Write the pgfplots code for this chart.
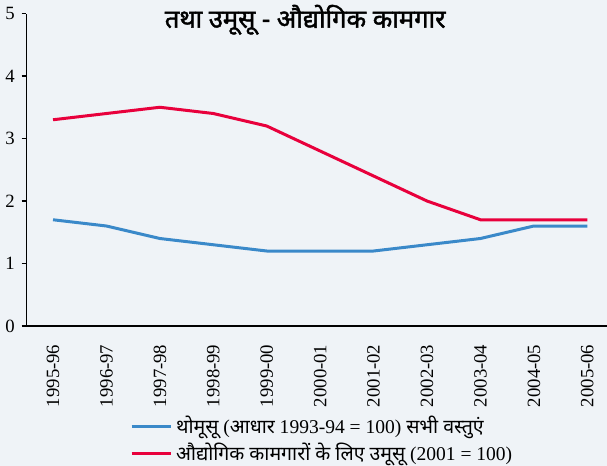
\documentclass[border=0pt]{standalone}
\usepackage{fontspec}
\setmainfont{Liberation Serif}
\newfontfamily\deva[Script=Devanagari]{Noto Sans}
\newfontfamily\devabold[Script=Devanagari,FakeBold=1.6]{Noto Sans}
\usepackage{pgfplots}
\pgfplotsset{compat=1.18}
\definecolor{bg}{HTML}{EFF3F7}
\definecolor{wpiblue}{HTML}{3A89C9}
\definecolor{cpired}{HTML}{E8003C}

\begin{document}
\begin{tikzpicture}
% picture is 607x466 px at 0.5bp per px, axis box lower left at (0,0)
\path[use as bounding box, fill=bg] (-13.15bp,-70bp) rectangle (290.35bp,163bp);
\clip (-13.15bp,-70bp) rectangle (290.35bp,163bp);
\begin{axis}[
    scale only axis,
    width=293.85bp, height=156.25bp,
    xmin=-0.5, xmax=10.5,
    ymin=0, ymax=5,
    axis lines*=left,
    axis line style={black, line width=0.7bp},
    tick style={black, line width=0.7bp},
    tick align=outside,
    major tick length=2.3bp,
    ytick={0,1,2,3,4,5},
    xtick={0,...,10},
    xticklabels={1995-96,1996-97,1997-98,1998-99,1999-00,2000-01,2001-02,2002-03,2003-04,2004-05,2005-06},
    x tick style={draw=none},
    minor xtick={-0.5,0.5,...,10.5},
    minor tick length=2.3bp,
    minor x tick style={black, line width=0.7bp},
    xticklabel style={rotate=90, anchor=east},
    xticklabel shift=3.5bp,
    ticklabel style={font=\fontsize{9.4}{10}\selectfont},
    /pgf/number format/assume math mode=true,
    legend style={at={(0.5,0)}, anchor=center, xshift=1.5bp, yshift=-56.8bp,
        draw=none, fill=none, font=\fontsize{9.8}{10.5}\selectfont,
        row sep=-0.8bp, legend cell align=left},
    legend image code/.code={\draw[#1, line width=1.5bp] (0bp,0bp) -- (19.5bp,0bp);},
    clip=false,
]
\addplot[wpiblue, line width=1.5bp] coordinates {
    (0,1.7) (1,1.6) (2,1.4) (3,1.3) (4,1.2) (5,1.2)
    (6,1.2) (7,1.3) (8,1.4) (9,1.6) (10,1.6)
};
\addlegendentry{{\deva थोमूसू} ({\deva आधार} 1993-94 = 100) {\deva सभी वस्तुएं}}
\addplot[cpired, line width=1.5bp] coordinates {
    (0,3.3) (1,3.4) (2,3.5) (3,3.4) (4,3.2) (5,2.8)
    (6,2.4) (7,2.0) (8,1.7) (9,1.7) (10,1.7)
};
\addlegendentry{{\deva औद्योगिक कामगारों के लिए उमूसू} (2001 = 100)}
\node[font=\devabold\fontsize{12.8}{14}\selectfont, anchor=center]
    at (axis cs:4.72,4.9) {तथा उमूसू - औद्योगिक कामगार};
\end{axis}
\end{tikzpicture}
\end{document}
